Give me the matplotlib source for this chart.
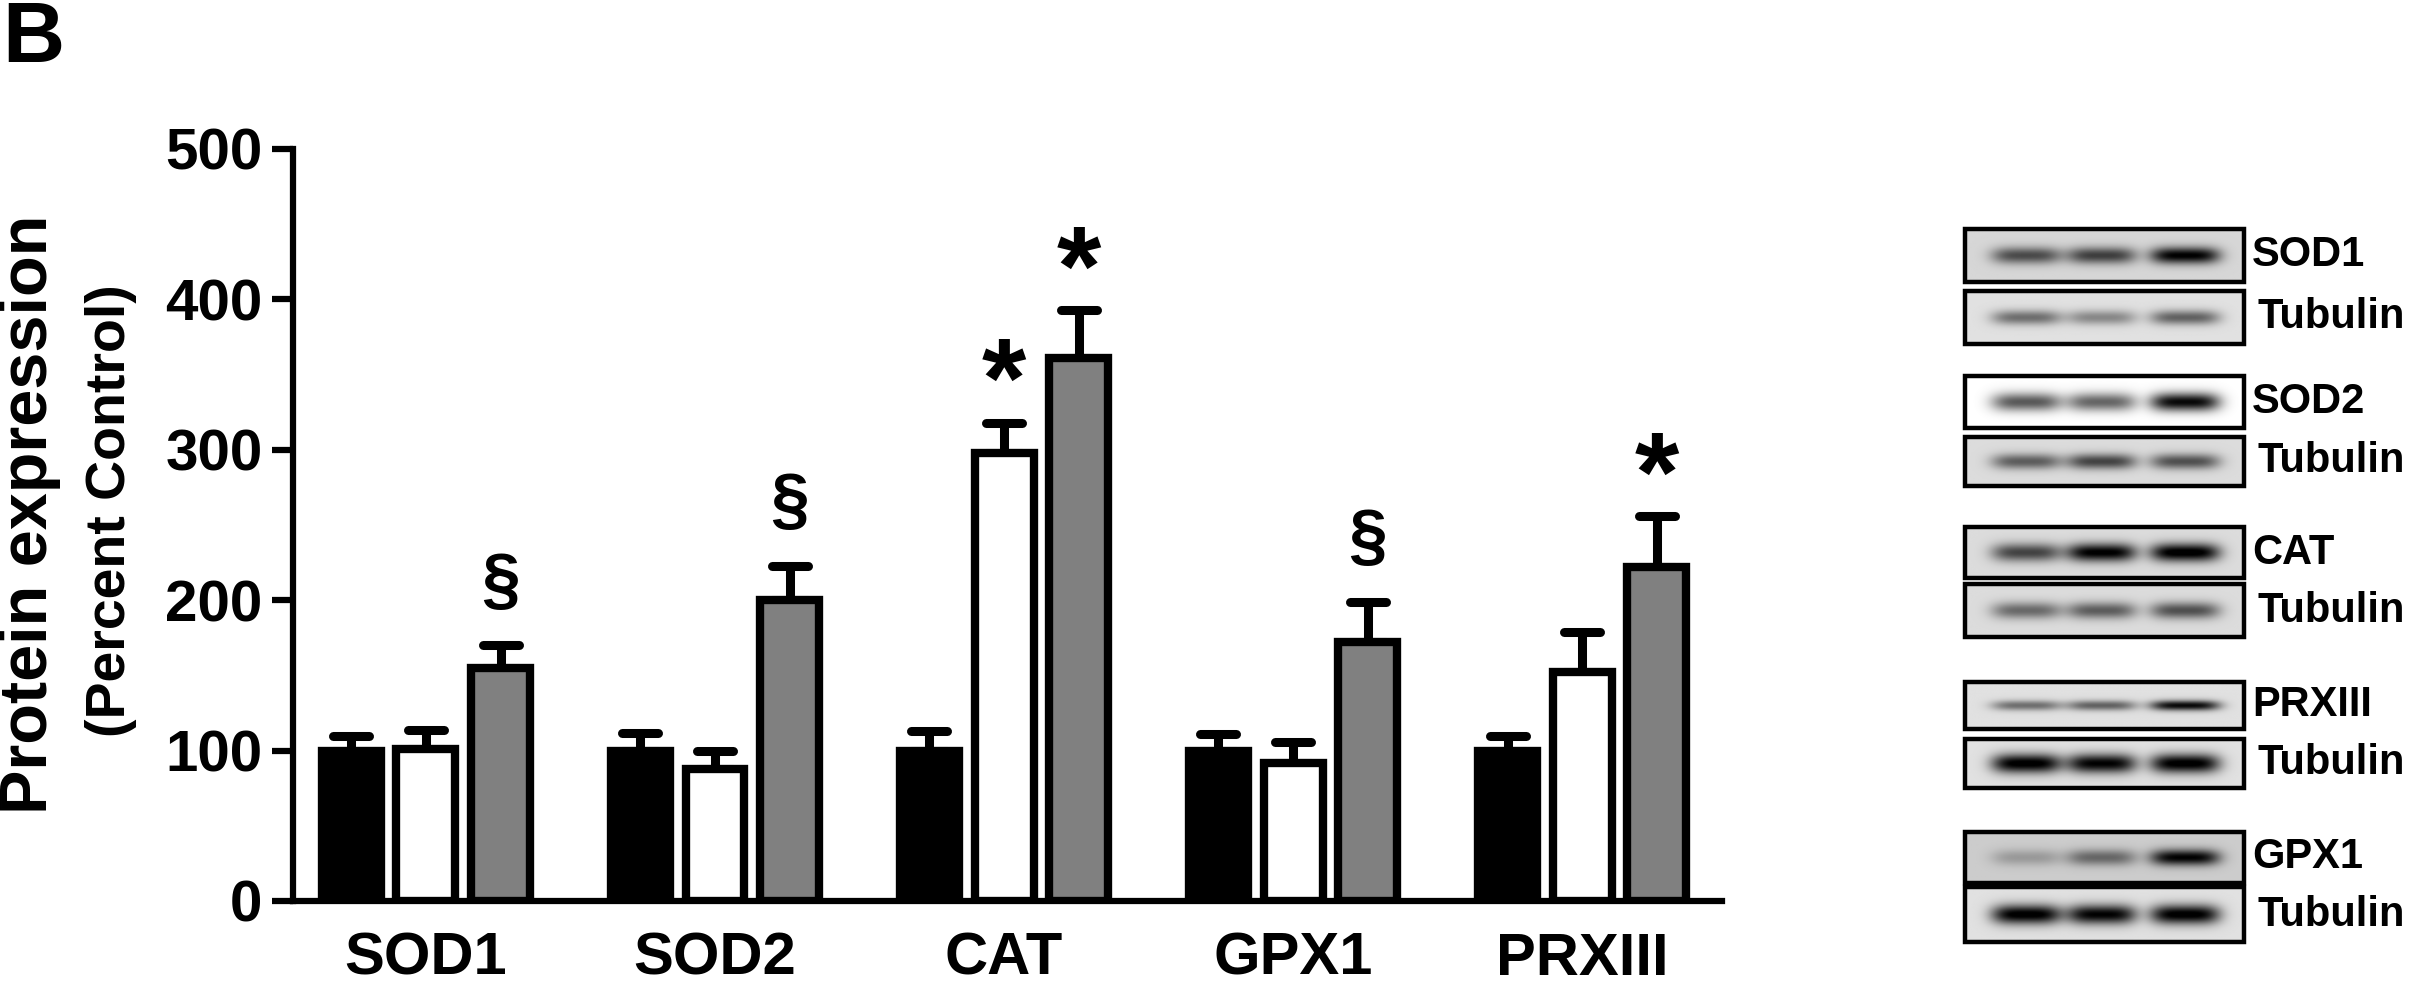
import numpy as np
import matplotlib.pyplot as plt
from matplotlib.markers import MarkerStyle
from matplotlib.patches import Rectangle

plt.rcParams['font.family'] = ['Liberation Sans', 'DejaVu Sans']
plt.rcParams['font.weight'] = 'bold'

# bar data (percent of control)
proteins = ['SOD1', 'SOD2', 'CAT', 'GPX1', 'PRXIII']
black_vals = [100, 100, 100, 100, 100]
black_err = [10, 12, 13, 11, 10]
white_vals = [101, 88, 298, 92, 152]
white_err = [13, 12, 20, 14, 27]
gray_vals = [155, 200, 361, 172, 222]
gray_err = [15, 23, 32, 27, 34]
white_marks = ['', '', '*', '', '']
gray_marks = ['§', '§', '*', '§', '*']

# western blot strips: label, background darkness, band darkness per lane, band thickness
blot_names = ['SOD1', 'Tubulin', 'SOD2', 'Tubulin', 'CAT', 'Tubulin',
              'PRXIII', 'Tubulin', 'GPX1', 'Tubulin']
blot_bg = [0.16, 0.12, 0.0, 0.14, 0.14, 0.14, 0.12, 0.12, 0.2, 0.12]
blot_bands = [[0.55, 0.6, 0.85], [0.45, 0.35, 0.5], [0.65, 0.6, 0.97],
              [0.5, 0.6, 0.55], [0.6, 0.88, 0.92], [0.45, 0.5, 0.55],
              [0.45, 0.5, 0.85], [0.92, 0.88, 0.92], [0.2, 0.4, 0.8],
              [0.92, 0.88, 0.92]]
blot_thick = [0.16, 0.14, 0.18, 0.16, 0.18, 0.16, 0.11, 0.2, 0.16, 0.18]

W, H = 2410, 983
fig = plt.figure(figsize=(W / 100, H / 100), dpi=100)
ax = fig.add_axes([293 / W, 1 - 901 / H, (1722 - 293) / W, (901 - 149) / H])

x = np.arange(len(proteins))
step = 0.258
bw = 0.204
lw = 6
groups = [(black_vals, black_err, 'black', None),
          (white_vals, white_err, 'white', white_marks),
          (gray_vals, gray_err, '#808080', gray_marks)]

for k, (vals, errs, col, marks) in enumerate(groups):
    xs = x + (k - 1) * step
    eb = ax.errorbar(xs, vals, yerr=[np.zeros(len(vals)), errs], fmt='none',
                     ecolor='black', elinewidth=6.5, capsize=13, capthick=6.5, zorder=2)
    for cl in eb[1]:
        cl.set_marker(MarkerStyle('_', capstyle='round'))
    ax.bar(xs, vals, width=bw, color=col, edgecolor='black', linewidth=lw, zorder=3)
    if marks:
        for xi, v, e, m in zip(xs, vals, errs, marks):
            if m == '*':
                ax.annotate(m, xy=(xi, v + e), xytext=(0, 4), textcoords='offset points',
                            ha='center', va='baseline', fontsize=82, fontweight='bold',
                            annotation_clip=False)
            elif m == '§':
                ax.annotate(m, xy=(xi, v + e), xytext=(0, 32), textcoords='offset points',
                            ha='center', va='baseline', fontsize=50, fontweight='bold',
                            annotation_clip=False)

ax.set_xlim(-0.46, 4.484)
ax.set_ylim(0, 500)
ax.set_yticks([0, 100, 200, 300, 400, 500])
ax.set_xticks(x)
ax.set_xticklabels(proteins)
for s in ['top', 'right']:
    ax.spines[s].set_visible(False)
for s in ['left', 'bottom']:
    ax.spines[s].set_linewidth(4.5)
ax.tick_params(axis='y', length=15, width=4.5, pad=7, labelsize=42)
ax.tick_params(axis='x', length=0, pad=22, labelsize=43)

fig.text(30 / W, 1 - 514 / H, 'Protein expression', rotation=90, ha='center', va='center',
         fontsize=48, fontweight='bold')
fig.text(111 / W, 1 - 511 / H, '(Percent Control)', rotation=90, ha='center', va='center',
         fontsize=40, fontweight='bold')
fig.text(2 / W, 1 - 0 / H, 'B', ha='left', va='top', fontsize=62, fontweight='bold')

# blot panel drawn in pixel coordinates
bx = fig.add_axes([0, 0, 1, 1])
bx.set_xlim(0, W)
bx.set_ylim(H, 0)
bx.axis('off')
box_y = [(229, 282), (291, 344), (376, 428), (437, 486), (527, 578),
         (584, 637), (682, 729), (739, 788), (832, 883), (887, 942)]
x0, x1 = 1965, 2244
lane_x = [0.22, 0.49, 0.79]
for name, (y0, y1), bg, amps, sy in zip(blot_names, box_y, blot_bg, blot_bands, blot_thick):
    xx = np.linspace(0, 1, 280)
    yy = np.linspace(0, 1, 52)
    X, Y = np.meshgrid(xx, yy)
    img = np.full(X.shape, bg)
    for c, a in zip(lane_x, amps):
        img += a * np.exp(-np.abs((X - c) / 0.125) ** 4) * np.exp(-((Y - 0.5) / sy) ** 2)
    bx.imshow(np.clip(img, 0, 1), cmap='gray_r', vmin=0, vmax=1, aspect='auto',
              extent=(x0, x1, y1, y0), interpolation='bilinear')
    bx.add_patch(Rectangle((x0, y0), x1 - x0, y1 - y0, fill=False, edgecolor='black', linewidth=3.2))
    tx = 2258 if name == 'Tubulin' else 2252
    bx.text(tx, (y0 + y1) / 2, name, ha='left', va='center', fontsize=30, fontweight='bold')

fig.savefig('out.png', dpi=100)
